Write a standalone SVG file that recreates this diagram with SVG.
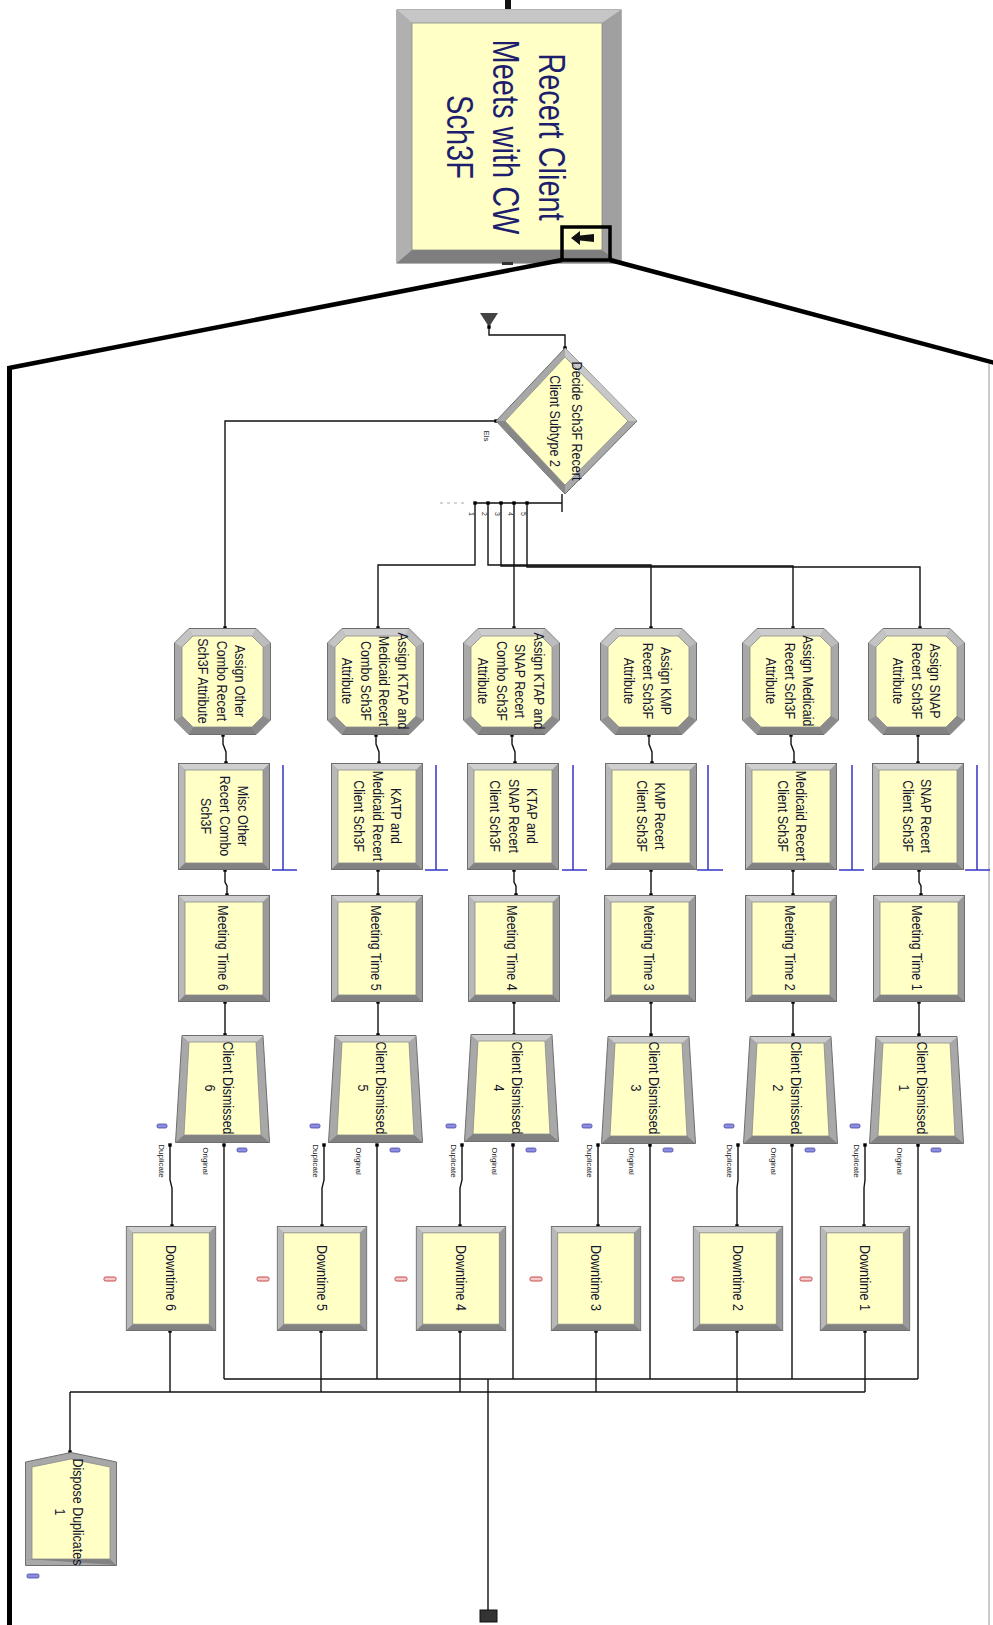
<svg xmlns="http://www.w3.org/2000/svg" width="993" height="1625" viewBox="0 0 993 1625">
<style>
.t{font-family:"Liberation Sans",Arial,sans-serif;font-size:12.5px;fill:#15152e;text-anchor:middle}
.big{font-family:"Liberation Sans",Arial,sans-serif;font-size:29px;fill:#1e1e6e;text-anchor:middle}
.sm{font-family:"Liberation Sans",Arial,sans-serif;font-size:8px;fill:#222;text-anchor:middle}
.xs{font-family:"Liberation Sans",Arial,sans-serif;font-size:7px;fill:#333;text-anchor:middle}
.c{fill:none;stroke:#111;stroke-width:1.4;marker-start:url(#dot);marker-end:url(#dot)}
.cs{fill:none;stroke:#111;stroke-width:1.4;marker-start:url(#dot)}
.cl{fill:none;stroke:#111;stroke-width:1.4}
.res{fill:none;stroke:#3535c8;stroke-width:1.5}
.bm{fill:#8d8de0;stroke:#4646a8;stroke-width:0.8}
.rm{fill:#f6caca;stroke:#c03838;stroke-width:0.9}
.frame{stroke:#000;stroke-width:4.5;fill:none}
</style>
<defs>
<marker id="dot" viewBox="0 0 4 4" refX="2" refY="2" markerWidth="4" markerHeight="4" markerUnits="userSpaceOnUse"><rect x="0.3" y="0.3" width="3.4" height="3.4" fill="#000"/></marker>
<symbol id="proc" viewBox="0 0 92 107" width="92" height="107">
<rect x="0.5" y="0.5" width="91" height="106" fill="#a6a6a6" stroke="#6e6e6e"/>
<polygon points="1,1 91,1 85,7 7,7" fill="#cfcfcf"/>
<polygon points="1,1 7,7 7,100 1,106" fill="#b8b8b8"/>
<polygon points="1,106 7,100 85,100 91,106" fill="#828282"/>
<polygon points="91,1 85,7 85,100 91,106" fill="#9a9a9a"/>
<rect x="7" y="7" width="78" height="93" fill="#ffffc6" stroke="#8a8a8a" stroke-width="0.8"/>
</symbol>
<symbol id="asg" viewBox="0 0 97 107" width="97" height="107">
<polygon points="15,0.5 82,0.5 96.5,15 96.5,92 82,106.5 15,106.5 0.5,92 0.5,15" fill="#a8a8a8" stroke="#6e6e6e"/>
<polygon points="15,1 82,1 78,8 19,8" fill="#cdcdcd"/>
<polygon points="1,15 15,1 19,8 8,19" fill="#c4c4c4"/>
<polygon points="82,1 96,15 89,19 78,8" fill="#bcbcbc"/>
<polygon points="82,106 15,106 19,99 78,99" fill="#828282"/>
<polygon points="96,92 82,106 78,99 89,88" fill="#8a8a8a"/>
<polygon points="15,106 1,92 8,88 19,99" fill="#939393"/>
<polygon points="19,8 78,8 89,19 89,88 78,99 19,99 8,88 8,19" fill="#ffffc6" stroke="#8a8a8a" stroke-width="0.8"/>
</symbol>
<symbol id="sep" viewBox="0 0 95 108" width="95" height="108">
<polygon points="7,0.5 88,0.5 94.5,107.5 0.5,107.5" fill="#a8a8a8" stroke="#6e6e6e"/>
<polygon points="7,1 88,1 81,7 14,7" fill="#cdcdcd"/>
<polygon points="1,107 9,100 86,100 94,107" fill="#828282"/>
<polygon points="14,7 81,7 86,100 9,100" fill="#ffffc6" stroke="#8a8a8a" stroke-width="0.8"/>
</symbol>
<symbol id="disp" viewBox="0 0 92 114" width="92" height="114">
<polygon points="0.5,10 46,0.5 91.5,10 91.5,113.5 0.5,113.5" fill="#a8a8a8" stroke="#6e6e6e"/>
<polygon points="1,107 7,107 85,107 91,113" fill="#828282"/>
<polygon points="7,15 46,7 85,15 85,107 7,107" fill="#ffffc6" stroke="#8a8a8a" stroke-width="0.8"/>
</symbol>
</defs>
<rect width="993" height="1625" fill="#fff"/>

<!-- submodel frame -->
<g id="submodel">
<rect x="505" y="0" width="6" height="9" fill="#111"/>
<rect x="397" y="10" width="224" height="253" fill="#a8a8a8" stroke="#666"/>
<polygon points="397,10 621,10 602,23 412,23" fill="#c6c6c6"/>
<polygon points="397,10 412,23 412,250 397,263" fill="#b0b0b0"/>
<polygon points="397,263 412,250 602,250 621,263" fill="#7e7e7e"/>
<polygon points="621,10 602,23 602,250 621,263" fill="#a0a0a0"/>
<rect x="412" y="23" width="190" height="227" fill="#ffffc6" stroke="#888" stroke-width="0.8"/>
<text class="big" transform="translate(507,137) rotate(90) scale(1,1.3)"><tspan x="0" y="-25">Recert Client</tspan><tspan x="0" y="10.4">Meets with CW</tspan><tspan x="0" y="45.8">Sch3F</tspan></text>
<rect x="562" y="227" width="48" height="33" fill="none" stroke="#000" stroke-width="3.5"/>
<polygon points="571,238 580,231 580,235.5 594,234 594,242 580,240.5 580,245" fill="#111"/>
<rect x="502" y="262" width="11" height="3" fill="#333"/>
</g>
<g id="zoomframe">
<line class="frame" x1="562" y1="260" x2="9" y2="368"/>
<line class="frame" x1="610" y1="260" x2="995" y2="363"/>
<line x1="9.5" y1="366" x2="9.5" y2="1625" stroke="#000" stroke-width="5"/>
<line x1="989" y1="364" x2="989" y2="1625" stroke="#999" stroke-width="1"/>
</g>

<!-- connectors -->
<g id="connectors">
<polygon points="480,313 498,313 489,327" fill="#444"/>
<path class="c" d="M489,327 V335 H565 V348"/>
<path class="c" d="M496,421 H225 V628"/>
<path class="cl" d="M562,494 V512 M562,503 H475"/>
<line x1="440" y1="503" x2="466" y2="503" stroke="#aaa" stroke-width="1.2" stroke-dasharray="3,4"/>
<path class="c" d="M475,503 V565 H378 V628"/>
<path class="c" d="M488,503 V565 H651 V628"/>
<path class="c" d="M501,503 V566 H793 V628"/>
<path class="c" d="M514,503 V628"/>
<path class="c" d="M527,503 V567 H920 V628"/>
<text class="sm" transform="translate(487,436) rotate(90)" x="0" y="2.9">Els</text>
<text class="xs" transform="translate(471,514) rotate(90)" x="0" y="2.5">1</text>
<text class="xs" transform="translate(484,514) rotate(90)" x="0" y="2.5">2</text>
<text class="xs" transform="translate(497,514) rotate(90)" x="0" y="2.5">3</text>
<text class="xs" transform="translate(510,514) rotate(90)" x="0" y="2.5">4</text>
<text class="xs" transform="translate(523,514) rotate(90)" x="0" y="2.5">5</text>

<!-- column flows -->
<path class="c" d="M223,735 V744 L226,752 V763"/>
<path class="c" d="M376,735 V744 L379,752 V763"/>
<path class="c" d="M512,735 V744 L515,752 V763"/>
<path class="c" d="M649,735 V744 L652,752 V763"/>
<path class="c" d="M791,735 V744 L794,752 V763"/>
<path class="c" d="M918,735 V763"/>

<path class="c" d="M225,870 V882 L227,886 V895"/>
<path class="c" d="M378,870 V895"/>
<path class="c" d="M514,870 V882 L516,886 V895"/>
<path class="c" d="M651,870 V895"/>
<path class="c" d="M793,870 V895"/>
<path class="c" d="M919,870 V882 L921,886 V895"/>

<path class="c" d="M225,1002 V1035"/>
<path class="c" d="M378,1002 V1035"/>
<path class="c" d="M514,1002 V1035"/>
<path class="c" d="M651,1002 V1035"/>
<path class="c" d="M793,1002 V1035"/>
<path class="c" d="M919,1002 V1035"/>

<path class="c" d="M170,1145 V1180 L172,1188 V1226"/>
<path class="c" d="M324,1145 V1180 L322,1188 V1226"/>
<path class="c" d="M462,1145 V1180 L460,1188 V1226"/>
<path class="c" d="M598,1145 V1226"/>
<path class="c" d="M738,1145 V1180 L737,1188 V1226"/>
<path class="c" d="M865,1145 V1180 L864,1188 V1226"/>

<path class="cs" d="M224,1145 V1379"/>
<path class="cs" d="M377,1145 V1379"/>
<path class="cs" d="M513,1145 V1379"/>
<path class="cs" d="M650,1145 V1379"/>
<path class="cs" d="M792,1145 V1379"/>
<path class="cs" d="M918,1145 V1379"/>
<path class="cl" d="M224,1379 H918"/>

<path class="cs" d="M170,1331 V1392"/>
<path class="cs" d="M321,1331 V1392"/>
<path class="cs" d="M460,1331 V1392"/>
<path class="cs" d="M596,1331 V1392"/>
<path class="cs" d="M737,1331 V1392"/>
<path class="cs" d="M865,1331 V1392"/>
<path class="cl" d="M70,1392 H865"/>
<path class="cl" d="M70,1392 V1452" marker-end="url(#dot)"/>

<path class="cl" d="M488,1379 V1610"/>
<rect x="480" y="1610" width="17" height="12" fill="#333" stroke="#111"/>

<!-- duplicate/original labels -->
<text class="sm" transform="translate(162,1161) rotate(90)" x="0" y="2.9">Duplicate</text>
<text class="sm" transform="translate(206,1161) rotate(90)" x="0" y="2.9">Original</text>
<text class="sm" transform="translate(316,1161) rotate(90)" x="0" y="2.9">Duplicate</text>
<text class="sm" transform="translate(359,1161) rotate(90)" x="0" y="2.9">Original</text>
<text class="sm" transform="translate(454,1161) rotate(90)" x="0" y="2.9">Duplicate</text>
<text class="sm" transform="translate(495,1161) rotate(90)" x="0" y="2.9">Original</text>
<text class="sm" transform="translate(590,1161) rotate(90)" x="0" y="2.9">Duplicate</text>
<text class="sm" transform="translate(632,1161) rotate(90)" x="0" y="2.9">Original</text>
<text class="sm" transform="translate(730,1161) rotate(90)" x="0" y="2.9">Duplicate</text>
<text class="sm" transform="translate(774,1161) rotate(90)" x="0" y="2.9">Original</text>
<text class="sm" transform="translate(857,1161) rotate(90)" x="0" y="2.9">Duplicate</text>
<text class="sm" transform="translate(900,1161) rotate(90)" x="0" y="2.9">Original</text>

<!-- resource lines -->
<path class="res" d="M283,765 V870 M272,870 H297"/>
<path class="res" d="M436,765 V870 M425,870 H448"/>
<path class="res" d="M573,765 V870 M562,870 H587"/>
<path class="res" d="M708,765 V870 M697,870 H723"/>
<path class="res" d="M852,765 V870 M839,870 H864"/>
<path class="res" d="M977,765 V870 M965,870 H990"/>
</g>

<!-- decide -->
<g id="decide">
<polygon points="565,348 637,421 565,494 496,421" fill="#a8a8a8" stroke="#6e6e6e"/>
<polygon points="565,348 637,421 628,421 565,357" fill="#c8c8c8"/>
<polygon points="565,494 496,421 505,421 565,485" fill="#888"/>
<polygon points="565,357 628,421 565,485 505,421" fill="#ffffc6" stroke="#8a8a8a" stroke-width="0.8"/>
<text class="t" transform="translate(566,421) rotate(90) scale(1,1.15)"><tspan x="0" y="-5.05">Decide Sch3F Recert</tspan><tspan x="0" y="14.05">Client Subtype 2</tspan></text>
</g>

<!-- assign modules -->
<g id="assign6"><use href="#asg" x="174" y="628"/>
<text class="t" transform="translate(222,681) rotate(90) scale(1,1.15)"><tspan x="0" y="-11.6">Assign Other</tspan><tspan x="0" y="4.5">Combo Recert</tspan><tspan x="0" y="20.6">Sch3F Attribute</tspan></text></g>
<g id="assign5"><use href="#asg" x="327" y="628"/>
<text class="t" transform="translate(375,681) rotate(90) scale(1,1.15)"><tspan x="0" y="-19.65">Assign KTAP and</tspan><tspan x="0" y="-3.55">Medicaid Recert</tspan><tspan x="0" y="12.55">Combo Sch3F</tspan><tspan x="0" y="28.65">Attribute</tspan></text></g>
<g id="assign4"><use href="#asg" x="463" y="628"/>
<text class="t" transform="translate(511,681) rotate(90) scale(1,1.15)"><tspan x="0" y="-19.65">Assign KTAP and</tspan><tspan x="0" y="-3.55">SNAP Recert</tspan><tspan x="0" y="12.55">Combo Sch3F</tspan><tspan x="0" y="28.65">Attribute</tspan></text></g>
<g id="assign3"><use href="#asg" x="600" y="628"/>
<text class="t" transform="translate(648,681) rotate(90) scale(1,1.15)"><tspan x="0" y="-11.6">Assign KMP</tspan><tspan x="0" y="4.5">Recert Sch3F</tspan><tspan x="0" y="20.6">Attribute</tspan></text></g>
<g id="assign2"><use href="#asg" x="742" y="628"/>
<text class="t" transform="translate(790,681) rotate(90) scale(1,1.15)"><tspan x="0" y="-11.6">Assign Medicaid</tspan><tspan x="0" y="4.5">Recert Sch3F</tspan><tspan x="0" y="20.6">Attribute</tspan></text></g>
<g id="assign1"><use href="#asg" x="868" y="628"/>
<text class="t" transform="translate(917,681) rotate(90) scale(1,1.15)"><tspan x="0" y="-11.6">Assign SNAP</tspan><tspan x="0" y="4.5">Recert Sch3F</tspan><tspan x="0" y="20.6">Attribute</tspan></text></g>

<!-- process modules -->
<g id="proc6"><use href="#proc" x="178" y="763"/>
<text class="t" transform="translate(225,816) rotate(90) scale(1,1.15)"><tspan x="0" y="-11.6">Misc Other</tspan><tspan x="0" y="4.5">Recert Combo</tspan><tspan x="0" y="20.6">Sch3F</tspan></text></g>
<g id="proc5"><use href="#proc" x="331" y="763"/>
<text class="t" transform="translate(378,816) rotate(90) scale(1,1.15)"><tspan x="0" y="-11.6">KATP and</tspan><tspan x="0" y="4.5">Medicaid Recert</tspan><tspan x="0" y="20.6">Client Sch3F</tspan></text></g>
<g id="proc4"><use href="#proc" x="467" y="763"/>
<text class="t" transform="translate(514,816) rotate(90) scale(1,1.15)"><tspan x="0" y="-11.6">KTAP and</tspan><tspan x="0" y="4.5">SNAP Recert</tspan><tspan x="0" y="20.6">Client Sch3F</tspan></text></g>
<g id="proc3"><use href="#proc" x="605" y="763"/>
<text class="t" transform="translate(651,816) rotate(90) scale(1,1.15)"><tspan x="0" y="-3.55">KMP Recert</tspan><tspan x="0" y="12.55">Client Sch3F</tspan></text></g>
<g id="proc2"><use href="#proc" x="745" y="763"/>
<text class="t" transform="translate(792,816) rotate(90) scale(1,1.15)"><tspan x="0" y="-3.55">Medicaid Recert</tspan><tspan x="0" y="12.55">Client Sch3F</tspan></text></g>
<g id="proc1"><use href="#proc" x="872" y="763"/>
<text class="t" transform="translate(917,816) rotate(90) scale(1,1.15)"><tspan x="0" y="-3.55">SNAP Recert</tspan><tspan x="0" y="12.55">Client Sch3F</tspan></text></g>

<!-- meeting time -->
<g id="mt6"><use href="#proc" x="178" y="895"/><text class="t" transform="translate(223,948) rotate(90) scale(1,1.15)" x="0" y="4.5">Meeting Time 6</text></g>
<g id="mt5"><use href="#proc" x="331" y="895"/><text class="t" transform="translate(376,948) rotate(90) scale(1,1.15)" x="0" y="4.5">Meeting Time 5</text></g>
<g id="mt4"><use href="#proc" x="468" y="895"/><text class="t" transform="translate(512,948) rotate(90) scale(1,1.15)" x="0" y="4.5">Meeting Time 4</text></g>
<g id="mt3"><use href="#proc" x="604" y="895"/><text class="t" transform="translate(649,948) rotate(90) scale(1,1.15)" x="0" y="4.5">Meeting Time 3</text></g>
<g id="mt2"><use href="#proc" x="745" y="895"/><text class="t" transform="translate(790,948) rotate(90) scale(1,1.15)" x="0" y="4.5">Meeting Time 2</text></g>
<g id="mt1"><use href="#proc" x="873" y="895"/><text class="t" transform="translate(917,948) rotate(90) scale(1,1.15)" x="0" y="4.5">Meeting Time 1</text></g>

<!-- client dismissed -->
<g id="cd6"><use href="#sep" x="175" y="1035"/><text class="t" transform="translate(219,1088) rotate(90) scale(1,1.15)"><tspan x="0" y="-3.55">Client Dismissed</tspan><tspan x="0" y="12.55">6</tspan></text>
<rect class="bm" x="157" y="1124" width="10" height="4" rx="1.5"/><rect class="bm" x="237" y="1148" width="10" height="4" rx="1.5"/></g>
<g id="cd5"><use href="#sep" x="328" y="1035"/><text class="t" transform="translate(372,1088) rotate(90) scale(1,1.15)"><tspan x="0" y="-3.55">Client Dismissed</tspan><tspan x="0" y="12.55">5</tspan></text>
<rect class="bm" x="310" y="1124" width="10" height="4" rx="1.5"/><rect class="bm" x="390" y="1148" width="10" height="4" rx="1.5"/></g>
<g id="cd4"><use href="#sep" x="464" y="1034"/><text class="t" transform="translate(508,1088) rotate(90) scale(1,1.15)"><tspan x="0" y="-3.55">Client Dismissed</tspan><tspan x="0" y="12.55">4</tspan></text>
<rect class="bm" x="446" y="1124" width="10" height="4" rx="1.5"/><rect class="bm" x="526" y="1148" width="10" height="4" rx="1.5"/></g>
<g id="cd3"><use href="#sep" x="601" y="1036"/><text class="t" transform="translate(645,1088) rotate(90) scale(1,1.15)"><tspan x="0" y="-3.55">Client Dismissed</tspan><tspan x="0" y="12.55">3</tspan></text>
<rect class="bm" x="582" y="1124" width="10" height="4" rx="1.5"/><rect class="bm" x="663" y="1148" width="10" height="4" rx="1.5"/></g>
<g id="cd2"><use href="#sep" x="743" y="1036"/><text class="t" transform="translate(787,1088) rotate(90) scale(1,1.15)"><tspan x="0" y="-3.55">Client Dismissed</tspan><tspan x="0" y="12.55">2</tspan></text>
<rect class="bm" x="724" y="1124" width="10" height="4" rx="1.5"/><rect class="bm" x="805" y="1148" width="10" height="4" rx="1.5"/></g>
<g id="cd1"><use href="#sep" x="869" y="1036"/><text class="t" transform="translate(913,1088) rotate(90) scale(1,1.15)"><tspan x="0" y="-3.55">Client Dismissed</tspan><tspan x="0" y="12.55">1</tspan></text>
<rect class="bm" x="850" y="1124" width="10" height="4" rx="1.5"/><rect class="bm" x="931" y="1148" width="10" height="4" rx="1.5"/></g>

<!-- downtime -->
<g id="dt6"><use href="#proc" x="125" y="1226" height="105"/><text class="t" transform="translate(171,1278) rotate(90) scale(1,1.15)" x="0" y="4.5">Downtime 6</text><rect class="rm" x="104" y="1277" width="12" height="4" rx="1.5"/></g>
<g id="dt5"><use href="#proc" x="276" y="1226" height="105"/><text class="t" transform="translate(322,1278) rotate(90) scale(1,1.15)" x="0" y="4.5">Downtime 5</text><rect class="rm" x="257" y="1277" width="12" height="4" rx="1.5"/></g>
<g id="dt4"><use href="#proc" x="415" y="1226" height="105"/><text class="t" transform="translate(461,1278) rotate(90) scale(1,1.15)" x="0" y="4.5">Downtime 4</text><rect class="rm" x="395" y="1277" width="12" height="4" rx="1.5"/></g>
<g id="dt3"><use href="#proc" x="550" y="1226" height="105"/><text class="t" transform="translate(596,1278) rotate(90) scale(1,1.15)" x="0" y="4.5">Downtime 3</text><rect class="rm" x="530" y="1277" width="12" height="4" rx="1.5"/></g>
<g id="dt2"><use href="#proc" x="692" y="1226" height="105"/><text class="t" transform="translate(738,1278) rotate(90) scale(1,1.15)" x="0" y="4.5">Downtime 2</text><rect class="rm" x="672" y="1277" width="12" height="4" rx="1.5"/></g>
<g id="dt1"><use href="#proc" x="819" y="1226" height="105"/><text class="t" transform="translate(865,1278) rotate(90) scale(1,1.15)" x="0" y="4.5">Downtime 1</text><rect class="rm" x="800" y="1277" width="12" height="4" rx="1.5"/></g>

<!-- dispose -->
<g id="dispose"><use href="#disp" x="25" y="1452"/>
<text class="t" transform="translate(69,1512) rotate(90) scale(1,1.15)"><tspan x="0" y="-3.55">Dispose Duplicates</tspan><tspan x="0" y="12.55">1</tspan></text>
<rect class="bm" x="27" y="1574" width="12" height="4" rx="1.5"/></g>
</svg>
